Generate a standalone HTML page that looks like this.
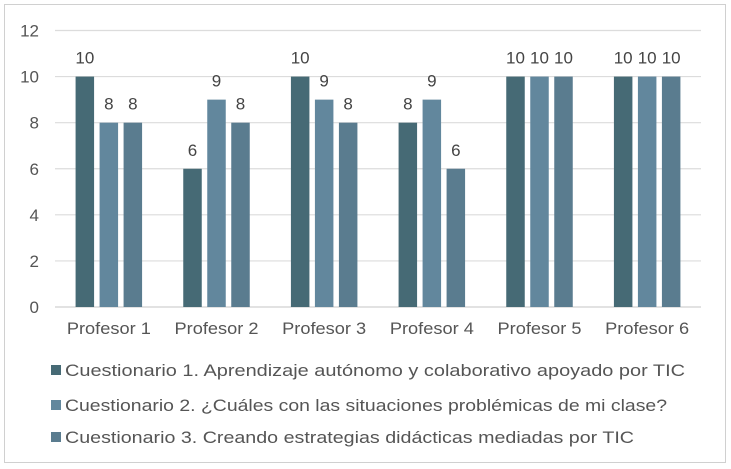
<!DOCTYPE html>
<html><head><meta charset="utf-8"><style>
body{margin:0;background:#fff;}
svg{display:block;font-family:"Liberation Sans",sans-serif;}
</style></head><body>
<svg id="c" width="731" height="469">
<rect x="4.5" y="4.5" width="721" height="458" fill="#fff" stroke="#d0d0d0"/>
</svg>
<script>
const categories=["Profesor 1","Profesor 2","Profesor 3","Profesor 4","Profesor 5","Profesor 6"];
const series1=[10,6,10,8,10,10];
const series2=[8,9,9,9,10,10];
const series3=[8,8,8,6,10,10];
const seriesNames=["Cuestionario 1. Aprendizaje autónomo y colaborativo apoyado por TIC","Cuestionario 2. ¿Cuáles con las situaciones problémicas de mi clase?","Cuestionario 3. Creando estrategias didácticas mediadas por TIC"];
const yTicks=[0,2,4,6,8,10,12];
const colors=["#466a75","#62879d","#5a7c8f"];
const svg=document.getElementById('c');
const NS="http://www.w3.org/2000/svg";
const x0=55,x1=701,yZero=307,yTop=30.5,yMax=12;
const y=v=>yZero-(yZero-yTop)*v/yMax;
const cw=(x1-x0)/categories.length;
const bw=18.5,gap=5.5;
const legendLens=[620,602,569];
function mk(t,a){const e=document.createElementNS(NS,t);for(const k in a)e.setAttribute(k,a[k]);svg.appendChild(e);return e;}
yTicks.forEach(t=>{
 const l=mk('line',{x1:x0,x2:x1,y1:y(t),y2:y(t),stroke:t===0?'#d0d0d0':'#dcdcdc','stroke-width':1.2});
 
 
 const tx=mk('text',{x:39,y:y(t)+6,'text-anchor':'end','font-size':17,fill:'#555'});
 tx.textContent=t;
 
 
});
const all=[series1,series2,series3];
categories.forEach((c,i)=>{
 const cx=x0+cw*(i+0.5);
 all.forEach((s,j)=>{
  const bx=cx+(j-1)*(bw+gap)-bw/2;
  const r=mk('rect',{x:bx,y:y(s[i]),width:bw,height:yZero-y(s[i]),fill:colors[j]});
  
  
  const t=mk('text',{x:bx+bw/2,y:y(s[i])-13,'text-anchor':'middle','font-size':17,fill:'#444'});
  t.textContent=s[i];
  
  
 });
 const t=mk('text',{x:cx,y:334,'text-anchor':'middle','font-size':17,fill:'#555',textLength:84,lengthAdjust:'spacingAndGlyphs'});
 t.textContent=c;
 
 
});
const ly=[376,411,443];
seriesNames.forEach((n,j)=>{
 const r=mk('rect',{x:51,y:ly[j]-11,width:10,height:10,fill:colors[j]});
 
 
 const t=mk('text',{x:65,y:ly[j],'font-size':17,fill:'#555',textLength:legendLens[j],lengthAdjust:'spacingAndGlyphs'});
 t.textContent=n;
 
 
});
</script>
</body></html>
